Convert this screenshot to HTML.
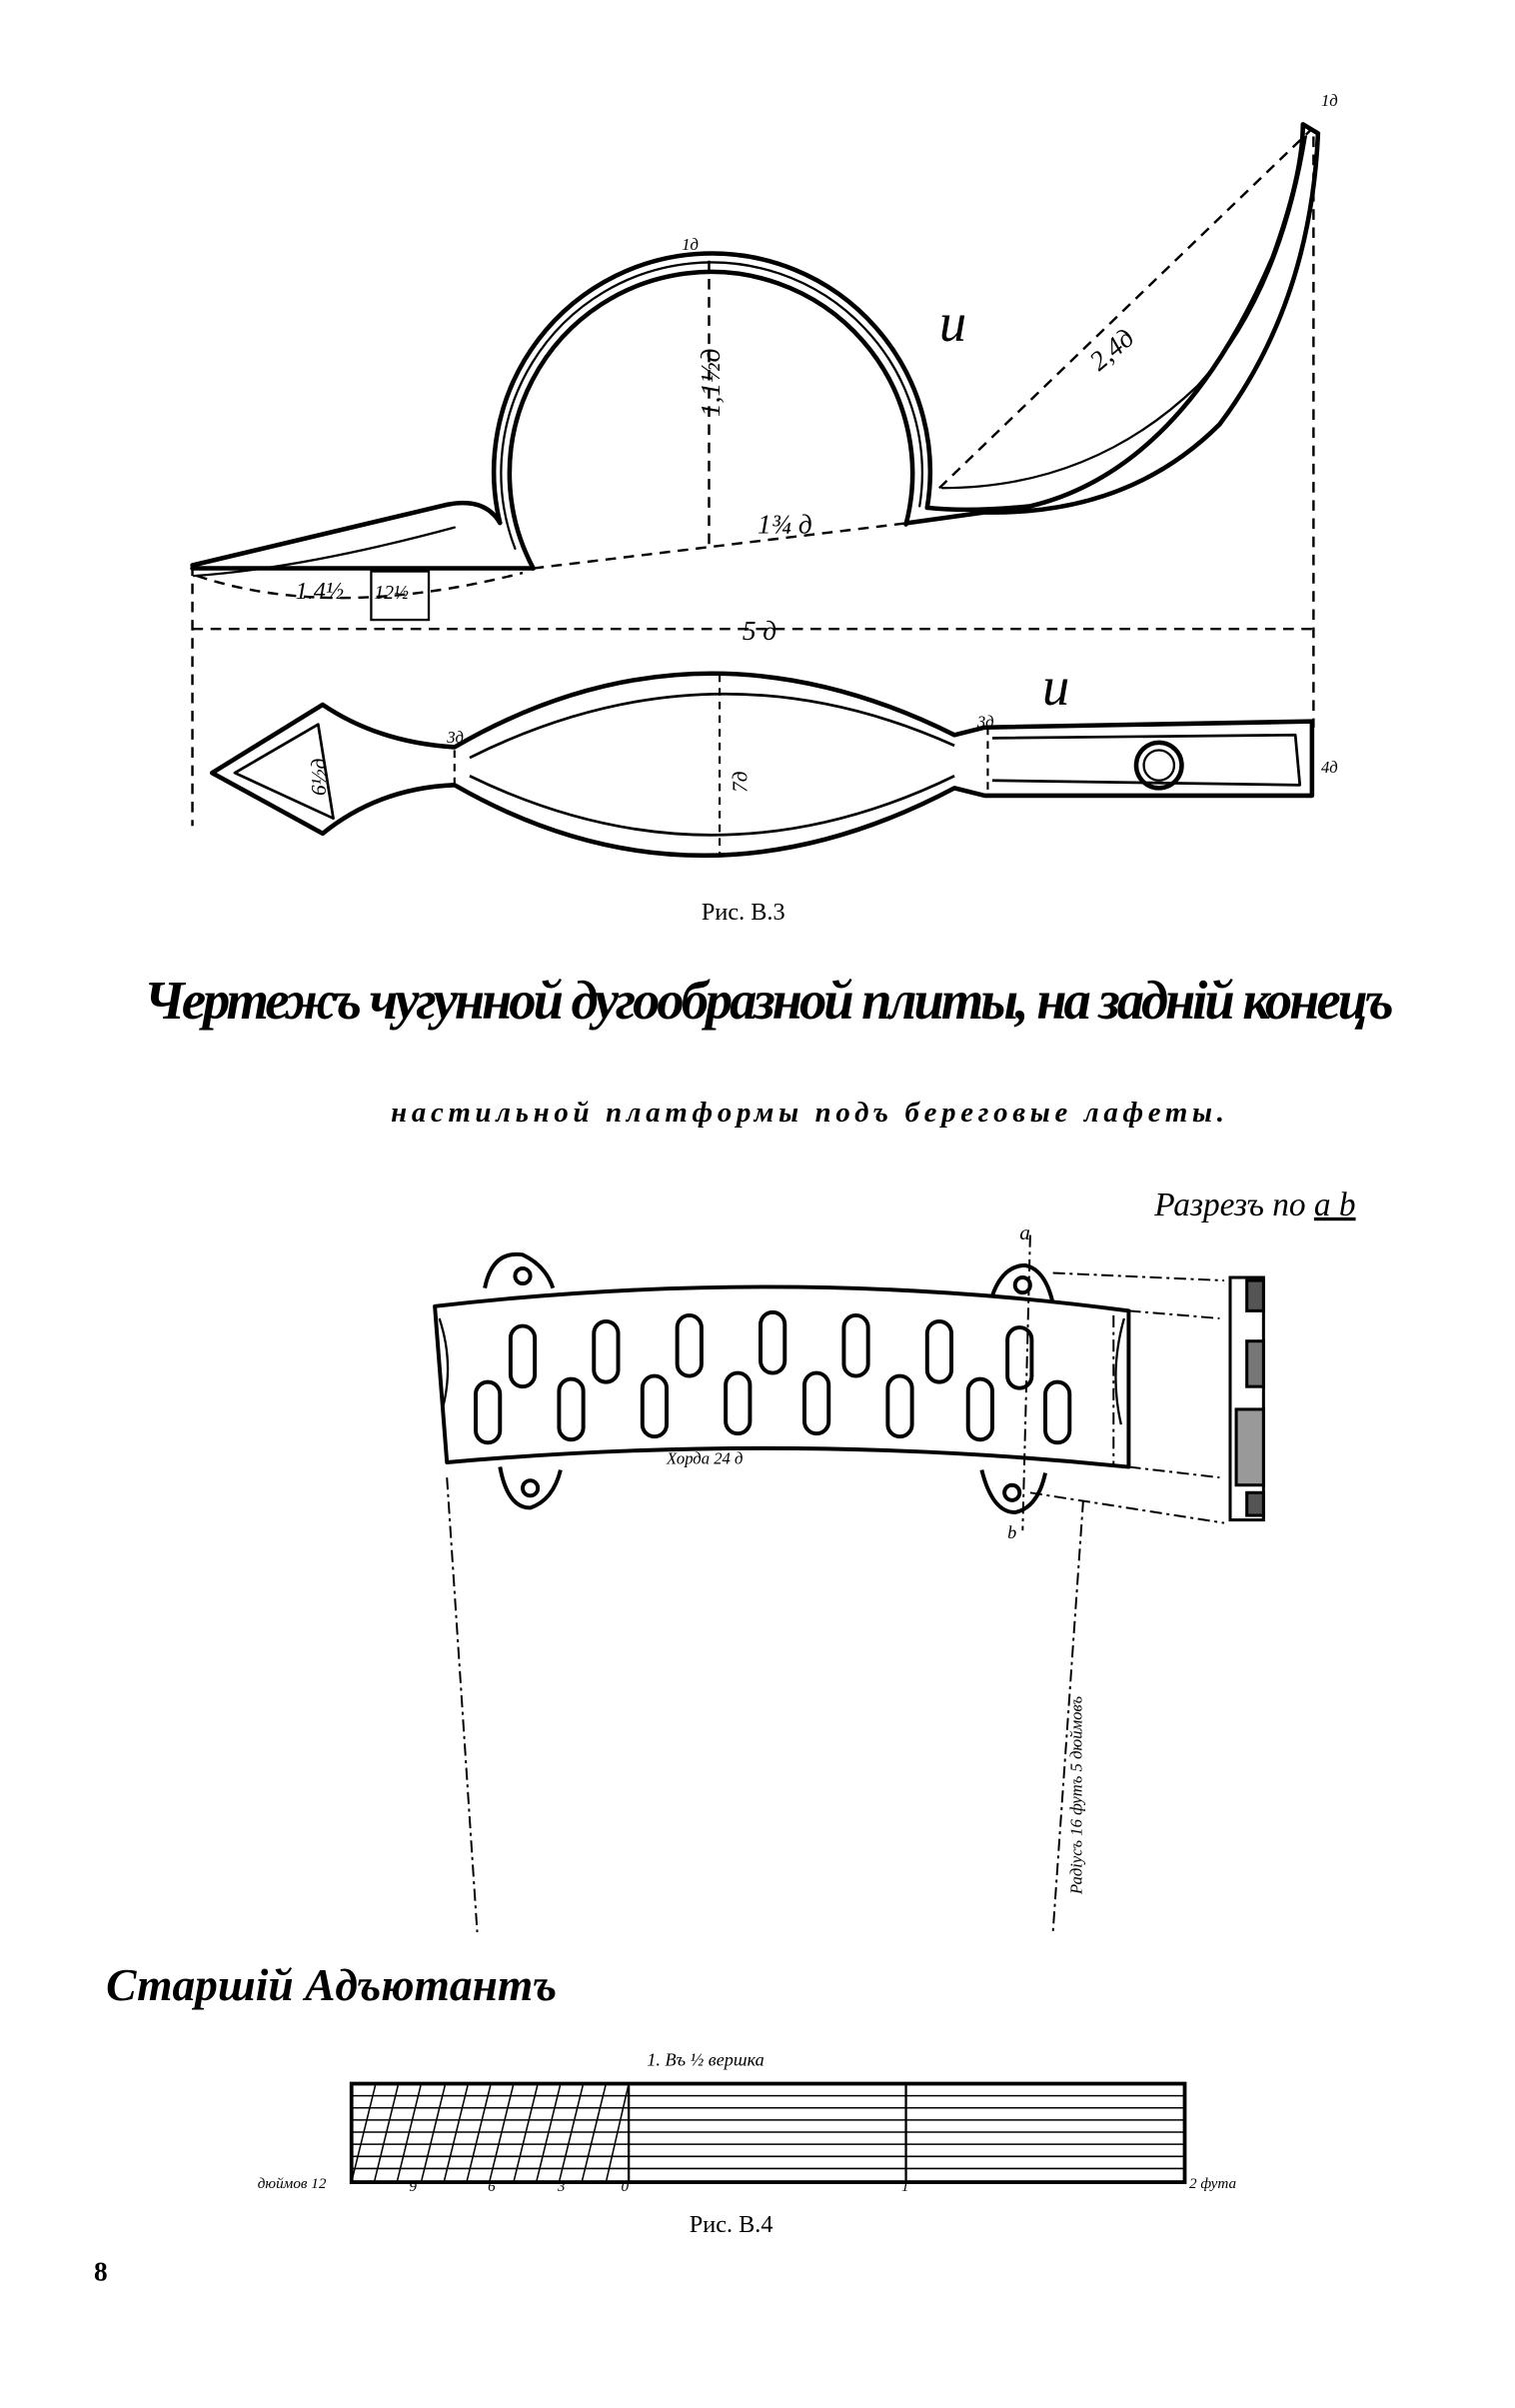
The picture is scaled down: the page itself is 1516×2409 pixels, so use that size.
<!DOCTYPE html>
<html><head><meta charset="utf-8"><style>
html,body{margin:0;padding:0;background:#fff}
svg{display:block}
text{font-family:"Liberation Serif",serif;fill:#000}
</style></head><body>
<svg width="1516" height="2409" viewBox="0 0 1000 1589" xmlns="http://www.w3.org/2000/svg">
<g fill="none" stroke="#000" stroke-width="3" stroke-linecap="round" stroke-linejoin="round">
<path d="M127,373 L295,333 Q320,328 330,345"/>
<path d="M330,345 A144,144 0 1 1 612,335"/>
<path d="M612,335 Q640,338 680,334 Q780,310 840,170 Q860,115 860,82 L870,88 Q865,200 805,280 Q745,340 650,338 L600,345"/>
<path d="M127,375 L352,375"/>
<path d="M352,375 A133,133 0 1 1 598,346"/>
<path d="M340,362 A139,139 0 1 1 607,334" stroke-width="1.5"/>
<path d="M128,380 Q200,375 300,348" stroke-width="1.5"/>
<path d="M622,322 Q720,322 790,255 Q845,195 862,90" stroke-width="1.5"/>
</g>
<g fill="none" stroke="#000" stroke-width="1.6" stroke-dasharray="7,5">
<path d="M352,375 L600,345"/>
<path d="M468,172 L468,360"/>
<path d="M620,322 L866,85"/>
<path d="M867,90 L867,480"/>
<path d="M127,373 L127,545"/>
<path d="M127,415 L867,415"/>
<path d="M130,380 Q220,410 345,378"/>
</g>
<rect x="245" y="377" width="38" height="32" fill="none" stroke="#000" stroke-width="1.5"/>
<text x="195" y="395" font-size="16" font-style="italic">1.4½</text>
<text x="247" y="395" font-size="13" font-style="italic">12½</text>
<text x="490" y="422" font-size="18" font-style="italic">5 д</text>
<text x="620" y="225" font-size="36" font-style="italic">u</text>
<text x="688" y="465" font-size="36" font-style="italic">u</text>
<text x="440" y="280" font-size="18" font-style="italic" transform="rotate(-90 455 260)">1,1½д</text>
<text x="500" y="352" font-size="18" font-style="italic">1¾ д</text>
<text x="720" y="240" font-size="18" font-style="italic" transform="rotate(-40 730 235)">2,4д</text>
<text x="450" y="165" font-size="11" font-style="italic">1д</text>
<text x="872" y="70" font-size="11" font-style="italic">1д</text>
<g fill="none" stroke="#000" stroke-width="3" stroke-linejoin="round">
<path d="M140,510 L213,465 Q250,490 300,493 Q460,400 630,485 L650,480 L866,476 L866,525 L650,525 L630,520 Q460,610 300,518 Q250,520 213,550 Z"/>
<path d="M155,510 L210,478 L220,540 Z" stroke-width="1.8"/>
<path d="M310,500 Q470,420 630,492 M310,512 Q470,590 630,512" stroke-width="1.8"/>
<path d="M655,487 L855,485 L858,518 L655,515" stroke-width="1.8"/>
<circle cx="765" cy="505" r="15"/><circle cx="765" cy="505" r="10" stroke-width="1.5"/>
</g>
<g stroke="#000" stroke-width="1.4" stroke-dasharray="5,4">
<path d="M475,445 L475,565 M300,495 L300,518 M652,480 L652,523"/>
</g>
<text x="195" y="525" font-size="14" font-style="italic" transform="rotate(-90 205 515)">6½д</text>
<text x="470" y="520" font-size="14" font-style="italic" transform="rotate(-90 483 510)">7д</text>
<text x="295" y="490" font-size="11" font-style="italic">3д</text>
<text x="645" y="480" font-size="11" font-style="italic">3д</text>
<text x="872" y="510" font-size="11" font-style="italic">4д</text>
<text x="463" y="607" font-size="16" font-family="Liberation Sans">Рис. В.3</text>
<text x="95" y="672" font-size="36" font-style="italic" font-weight="bold" textLength="825">Чертежъ чугунной дугообразной плиты, на задній конецъ</text>
<text x="258" y="740" font-size="19" font-style="italic" font-weight="bold" textLength="550">настильной платформы подъ береговые лафеты.</text>
<text x="762" y="802" font-size="22" font-style="italic">Разрезъ по <tspan text-decoration="underline">a b</tspan></text>
<g fill="none" stroke="#000" stroke-width="2.6" stroke-linejoin="round">
<path d="M287,862 Q520,835 745,865 L745,968 Q520,945 295,965 Z"/>
<path d="M320,850 Q325,825 345,828 Q360,835 365,850"/>
<path d="M655,855 Q662,835 677,835 Q690,838 695,860"/>
<path d="M330,968 Q335,995 350,995 Q365,990 370,970"/>
<path d="M648,970 Q655,998 670,998 Q685,995 690,972"/>
<rect x="337" y="875" width="16" height="40" rx="8"/><rect x="392" y="872" width="16" height="40" rx="8"/>
<rect x="447" y="868" width="16" height="40" rx="8"/><rect x="502" y="866" width="16" height="40" rx="8"/>
<rect x="557" y="868" width="16" height="40" rx="8"/><rect x="612" y="872" width="16" height="40" rx="8"/>
<rect x="665" y="876" width="16" height="40" rx="8"/>
<rect x="314" y="912" width="16" height="40" rx="8"/><rect x="369" y="910" width="16" height="40" rx="8"/>
<rect x="424" y="908" width="16" height="40" rx="8"/><rect x="479" y="906" width="16" height="40" rx="8"/>
<rect x="531" y="906" width="16" height="40" rx="8"/><rect x="586" y="908" width="16" height="40" rx="8"/>
<rect x="639" y="910" width="16" height="40" rx="8"/><rect x="690" y="912" width="16" height="40" rx="8"/>
<path d="M290,870 Q300,900 292,930 M742,870 Q732,905 740,940" stroke-width="1.5"/>
<circle cx="345" cy="842" r="5"/><circle cx="675" cy="848" r="5"/><circle cx="350" cy="982" r="5"/><circle cx="668" cy="985" r="5"/>
</g>
<g fill="none" stroke="#000" stroke-width="1.3" stroke-dasharray="8,3,2,3">
<path d="M695,840 L808,845 M745,865 L805,870 M745,968 L805,975 M680,985 L808,1005"/>
<path d="M295,975 L315,1275 M715,990 L695,1275"/>
<path d="M680,815 L675,1010"/>
<path d="M735,868 L735,968"/>
</g>
<g stroke="#000" stroke-width="2">
<rect x="812" y="843" width="22" height="160" fill="none"/>
<rect x="823" y="845" width="11" height="20" fill="#555"/>
<rect x="823" y="885" width="11" height="30" fill="#777"/>
<rect x="816" y="930" width="18" height="50" fill="#999"/>
<rect x="823" y="985" width="11" height="15" fill="#555"/>
</g>
<text x="673" y="818" font-size="14" font-style="italic">a</text>
<text x="665" y="1015" font-size="12" font-style="italic">b</text>
<text x="440" y="966" font-size="11" font-style="italic">Хорда 24 д</text>
<text x="714" y="1250" font-size="11" font-style="italic" transform="rotate(-90 714 1250)">Радiусъ 16 футъ 5 дюймовъ</text>
<text x="70" y="1320" font-size="30" font-style="italic" font-weight="bold">Старшій Адъютантъ</text>
<text x="427" y="1363" font-size="12" font-style="italic">1. Въ ½ вершка</text>
<g stroke="#000" fill="none">
<rect x="232" y="1375" width="550" height="65" stroke-width="2.5"/>
<path d="M232,1383H782M232,1391H782M232,1399H782M232,1407H782M232,1415H782M232,1423H782M232,1431H782" stroke-width="1"/>
<path d="M415,1375V1440M598,1375V1440" stroke-width="1.5"/>
<path d="M248,1375L232,1440M263,1375L247,1440M278,1375L262,1440M294,1375L278,1440M309,1375L293,1440M324,1375L308,1440M339,1375L323,1440M355,1375L339,1440M370,1375L354,1440M385,1375L369,1440M400,1375L384,1440M415,1375L400,1440" stroke-width="1"/>
</g>
<text x="170" y="1444" font-size="10" font-style="italic">дюймов 12</text>
<text x="270" y="1446" font-size="10" font-style="italic">9</text>
<text x="322" y="1446" font-size="10" font-style="italic">6</text>
<text x="368" y="1446" font-size="10" font-style="italic">3</text>
<text x="410" y="1446" font-size="10" font-style="italic">0</text>
<text x="595" y="1446" font-size="10" font-style="italic">1</text>
<text x="785" y="1444" font-size="10" font-style="italic">2 фута</text>
<text x="455" y="1473" font-size="16" font-family="Liberation Sans">Рис. В.4</text>
<text x="62" y="1505" font-size="18" font-weight="bold" font-family="Liberation Sans">8</text>
</svg>
</body></html>
